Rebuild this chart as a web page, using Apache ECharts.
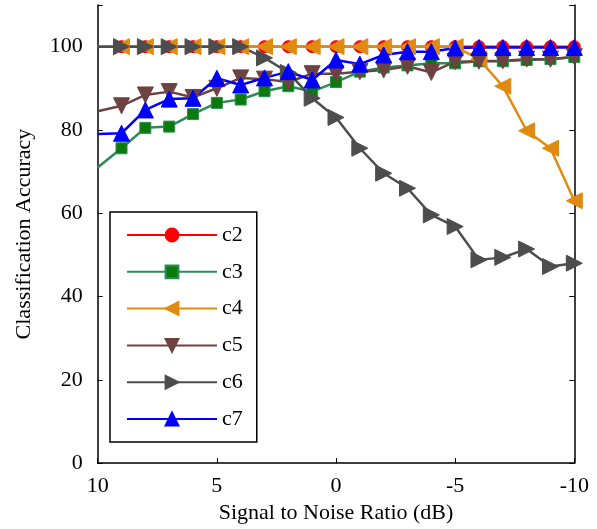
<!DOCTYPE html>
<html><head><meta charset="utf-8">
<script src="https://cdn.jsdelivr.net/npm/echarts@6/dist/echarts.min.js"></script>
<style>html,body{margin:0;padding:0;background:#fff}#c{width:597px;height:529px}</style>
</head><body><div id="c"></div>
<script>
const snr = [10, 9, 8, 7, 6, 5, 4, 3, 2, 1, 0, -1, -2, -3, -4, -5, -6, -7, -8, -9, -10];
const c2 = [100,100,100,100,100,100,100,100,100,100,100,100,100,100,100,100,100,100,100,100,100];
const c3 = [71,75.6,80.5,80.8,83.8,86.5,87.3,89.3,90.5,89.2,91.5,94,95,95.5,96,96,96.5,96.5,96.8,97,97.5];
const c4 = [100,100,100,100,100,100,100,100,100,100,100,100,100,100,100,100,97,90.5,79.8,75.6,63];
const c5 = [84.5,85.8,88.4,89.2,87.8,90,92.5,92.2,91.5,93.5,93.5,94,94.4,95.3,93.8,96.4,96.5,96.6,97,97,97.6];
const c6 = [100,100,100,100,100,100,100,97.3,93.8,87.6,83,75.6,69.6,66,59.6,56.8,48.8,49.4,51.4,47.2,48];
const c7 = [79,79.2,84.8,87.4,87.6,92.4,90.8,92.5,94,92,96.8,95.8,98,98.8,98.8,99.7,99.8,99.8,99.8,99.8,99.8];

const FONT = '"Liberation Serif","Times New Roman",serif';
const TRI_UP = 'path://M5,0L10,10L0,10Z';
const TRI_DOWN = 'path://M0,0L10,0L5,10Z';
const TRI_LEFT = 'path://M10,0L10,10L0,5Z';
const TRI_RIGHT = 'path://M0,0L10,5L0,10Z';

function mk(name, vals, color, fill, symbol, size) {
  return {
    name: name, type: 'line', clip: true,
    data: vals.map((v, i) => i === 0 ? {value: [snr[i], v], symbol: 'none'} : [snr[i], v]),
    symbol: symbol, symbolSize: size,
    lineStyle: {color: color, width: 2.5},
    itemStyle: {color: fill, borderColor: color, borderWidth: 1},
    emphasis: {disabled: true},
    animation: false
  };
}

const chart = echarts.init(document.getElementById('c'), null, {renderer: 'canvas'});
chart.setOption({
  animation: false,
  backgroundColor: '#fff',
  grid: {left: 97.7, right: 22.7, top: 5, bottom: 65.7},
  xAxis: {
    type: 'value', min: -10, max: 10, interval: 5, inverse: true,
    name: 'Signal to Noise Ratio (dB)', nameLocation: 'middle', nameGap: 38,
    nameTextStyle: {fontFamily: FONT, fontSize: 22, color: '#000'},
    axisLine: {onZero: false, lineStyle: {color: '#000', width: 1.5}},
    axisTick: {inside: true, length: 5, lineStyle: {color: '#000'}},
    axisLabel: {fontFamily: FONT, fontSize: 22, color: '#000', margin: 12},
    splitLine: {show: false}
  },
  yAxis: [{
    type: 'value', min: 0, max: 110, interval: 20,
    name: 'Classification Accuracy', nameLocation: 'middle', nameGap: 62,
    nameTextStyle: {fontFamily: FONT, fontSize: 22, color: '#000'},
    axisLine: {show: true, onZero: false, lineStyle: {color: '#000', width: 1.5}},
    axisTick: {show: true, inside: true, length: 5, lineStyle: {color: '#000'}},
    axisLabel: {fontFamily: FONT, fontSize: 22, color: '#000', margin: 15,
      formatter: v => (v % 20 === 0 && v <= 100) ? String(v) : ''},
    splitLine: {show: false}
  }, {
    type: 'value', min: 0, max: 110, interval: 20, position: 'right',
    axisLine: {show: true, onZero: false, lineStyle: {color: '#000', width: 1.5}},
    axisTick: {show: true, inside: true, length: 5, lineStyle: {color: '#000'}},
    axisLabel: {show: false},
    splitLine: {show: false}
  }],
  legend: {
    orient: 'vertical', left: 110, top: 212,
    padding: [12, 14, 12, 16], itemGap: 14.8, itemWidth: 90, itemHeight: 16, itemTextGap: 10,
    borderColor: '#000', borderWidth: 1.5, backgroundColor: '#fff',
    textStyle: {fontFamily: FONT, fontSize: 22, color: '#000', lineHeight: 22},
    data: ['c2', 'c3', 'c4', 'c5', 'c6', 'c7']
  },
  series: [
    mk('c2', c2, '#ff0000', '#ff0000', 'circle', 12),
    mk('c3', c3, '#2e8b57', '#0a7a0a', 'rect', 11),
    mk('c4', c4, '#e08a10', '#e08a10', TRI_LEFT, 16),
    mk('c5', c5, '#6e4242', '#6e4242', TRI_DOWN, 16),
    mk('c6', c6, '#4d4d4d', '#4d4d4d', TRI_RIGHT, 16),
    mk('c7', c7, '#0000ff', '#0000ff', TRI_UP, 16)
  ]
});
</script>
</body></html>
